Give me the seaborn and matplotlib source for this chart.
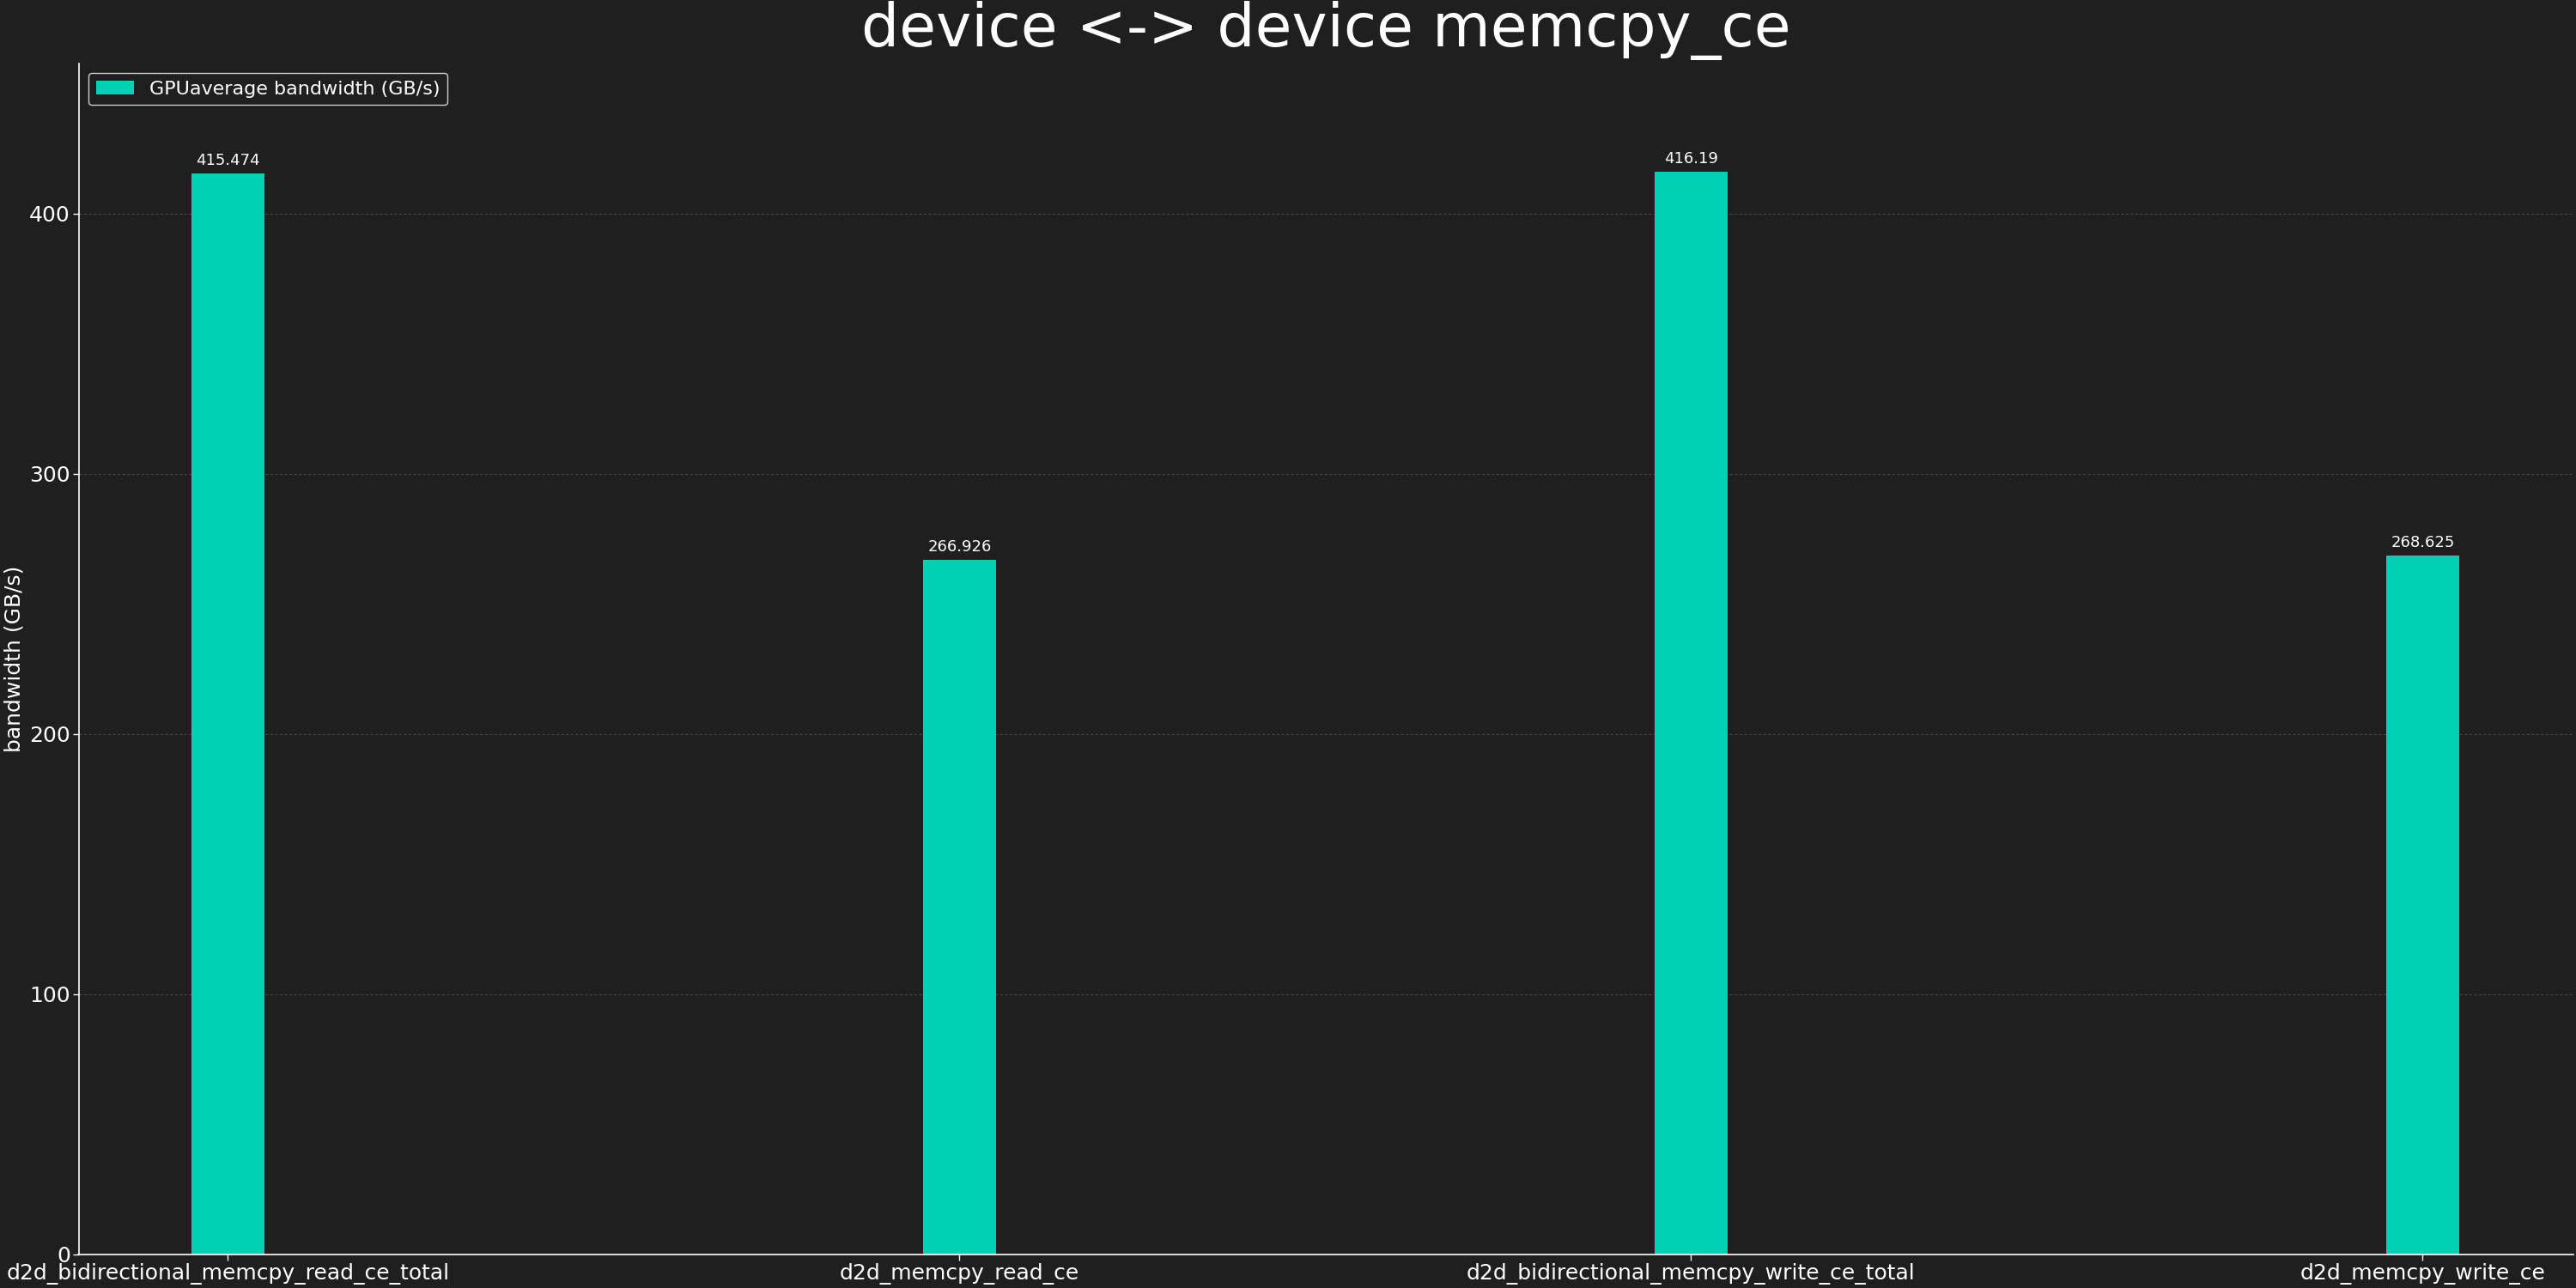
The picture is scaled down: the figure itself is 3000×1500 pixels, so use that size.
import matplotlib
matplotlib.use("Agg")
import matplotlib.pyplot as plt
import seaborn as sns

## data
tests = ['d2d_bidirectional_memcpy_read_ce_total', 'd2d_memcpy_read_ce',
         'd2d_bidirectional_memcpy_write_ce_total', 'd2d_memcpy_write_ce']
bandwidth = [415.474, 266.926, 416.19, 268.625]
bar_labels = ['415.474', '266.926', '416.19', '268.625']

BG = '#1f1f1f'
BAR = '#00d1b5'

sns.set_theme(style='dark')
plt.rcParams['font.family'] = ['DejaVu Sans']

fig = plt.figure(figsize=(30, 15), dpi=100, facecolor=BG)
ax = fig.add_axes([0.0305, 0.026, 0.9685, 0.925])
ax.set_facecolor(BG)

sns.barplot(x=tests, y=bandwidth, color=BAR, width=0.1, saturation=1,
            linewidth=0, edgecolor=BAR,
            label='GPUaverage bandwidth (GB/s)', ax=ax)

ax.bar_label(ax.containers[0], labels=bar_labels, padding=4, fontsize=13, color='white')

ax.set_xlim(-0.204, 3.206)
ax.set_ylim(0, max(bandwidth) * 1.1)
ax.set_yticks([0, 100, 200, 300, 400])
ax.yaxis.grid(True, color='#444444', linestyle=(0, (3, 2)), linewidth=0.8)
ax.xaxis.grid(False)
ax.set_axisbelow(True)

for s in ['top', 'right']:
    ax.spines[s].set_visible(False)
for s in ['left', 'bottom']:
    ax.spines[s].set_visible(True)
    ax.spines[s].set_color('white')
    ax.spines[s].set_linewidth(1.2)

ax.tick_params(axis='both', colors='white', labelsize=18, length=5, width=1,
               bottom=True, left=True, pad=2)
ax.set_ylabel('bandwidth (GB/s)', color='white', fontsize=18, labelpad=4)
ax.set_title('device <-> device memcpy_ce', color='white', fontsize=50, pad=14)

leg = ax.legend(loc='upper left', fontsize=16, facecolor=BG, edgecolor='#cfcfcf',
                framealpha=1, handlelength=2.0, borderaxespad=0.5)
for t in leg.get_texts():
    t.set_color('white')

fig.savefig('out.png', dpi=100, facecolor=BG)
